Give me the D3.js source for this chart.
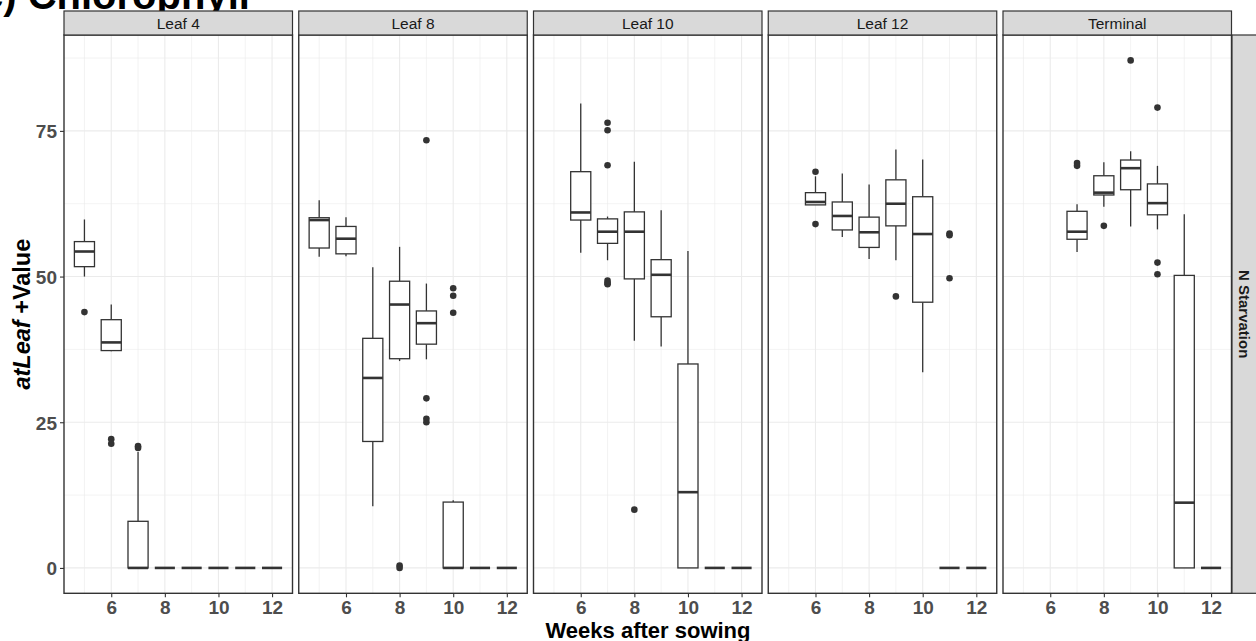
<!DOCTYPE html>
<html>
<head>
<meta charset="utf-8">
<script src="https://cdn.jsdelivr.net/npm/d3@7"></script>
<style>
  body { margin: 0; background: #ffffff; }
  svg { display: block; }
</style>
</head>
<body>
<svg id="chart" width="1256" height="641"></svg>
<script>
// ---- data -------------------------------------------------------------
const facets = ["Leaf 4", "Leaf 8", "Leaf 10", "Leaf 12", "Terminal"];
const rowLabel = "N Starvation";
const titleText = "c) Chlorophyll";
const xTitle = "Weeks after sowing";
const xTicks = [6, 8, 10, 12];
const yTicks = [0, 25, 50, 75];

// box summaries: [week, lower whisker, Q1, median, Q3, upper whisker]
const leaf4Boxes = [
  [5, 50.0, 51.7, 54.3, 56.0, 59.8],
  [6, 37.2, 37.3, 38.7, 42.6, 45.2],
  [7, 0, 0, 0, 8.0, 19.9],
  [8, 0, 0, 0, 0, 0],
  [9, 0, 0, 0, 0, 0],
  [10, 0, 0, 0, 0, 0],
  [11, 0, 0, 0, 0, 0],
  [12, 0, 0, 0, 0, 0]
];
const leaf4Outliers = [[5, 43.9], [6, 22.1], [6, 21.3], [7, 20.9], [7, 20.6]];

const leaf8Boxes = [
  [5, 53.4, 54.9, 59.7, 60.1, 63.1],
  [6, 53.5, 53.9, 56.5, 58.6, 60.2],
  [7, 10.6, 21.7, 32.6, 39.4, 51.6],
  [8, 35.5, 35.9, 45.2, 49.2, 55.1],
  [9, 35.8, 38.4, 42.0, 44.1, 48.8],
  [10, 0, 0, 0, 11.3, 11.6],
  [11, 0, 0, 0, 0, 0],
  [12, 0, 0, 0, 0, 0]
];
const leaf8Outliers = [[8, 0.4], [8, 0.0], [9, 73.4], [9, 29.1], [9, 25.6], [9, 25.0],
  [10, 48.0], [10, 46.7], [10, 43.8]];

const leaf10Boxes = [
  [6, 54.1, 59.7, 61.0, 68.0, 79.7],
  [7, 52.8, 55.7, 57.7, 59.9, 60.3],
  [8, 39.0, 49.6, 57.7, 61.1, 69.7],
  [9, 38.0, 43.1, 50.3, 52.9, 61.4],
  [10, 0, 0, 13.0, 35.0, 54.4],
  [11, 0, 0, 0, 0, 0],
  [12, 0, 0, 0, 0, 0]
];
const leaf10Outliers = [[7, 76.4], [7, 75.1], [7, 69.1], [7, 49.3], [7, 48.9], [7, 48.7],
  [8, 10.0]];

const leaf12Boxes = [
  [6, 62.3, 62.3, 62.8, 64.4, 67.2],
  [7, 56.8, 58.0, 60.4, 62.8, 67.7],
  [8, 53.0, 55.0, 57.6, 60.2, 65.8],
  [9, 52.8, 58.7, 62.5, 66.6, 71.8],
  [10, 33.6, 45.6, 57.3, 63.7, 70.1],
  [11, 0, 0, 0, 0, 0],
  [12, 0, 0, 0, 0, 0]
];
const leaf12Outliers = [[6, 68.0], [6, 59.0], [9, 46.6], [11, 57.4], [11, 57.1], [11, 49.7]];

const terminalBoxes = [
  [7, 54.2, 56.4, 57.7, 61.2, 62.4],
  [8, 62.0, 64.0, 64.4, 67.3, 69.6],
  [9, 58.6, 64.9, 68.6, 70.0, 71.5],
  [10, 58.1, 60.6, 62.6, 65.9, 69.0],
  [11, 0, 0, 11.2, 50.2, 60.7],
  [12, 0, 0, 0, 0, 0]
];
const terminalOutliers = [[7, 69.5], [7, 69.0], [8, 58.7], [9, 87.1], [10, 79.0], [10, 52.4], [10, 50.4]];

const panelData = [
  { boxes: leaf4Boxes, outliers: leaf4Outliers },
  { boxes: leaf8Boxes, outliers: leaf8Outliers },
  { boxes: leaf10Boxes, outliers: leaf10Outliers },
  { boxes: leaf12Boxes, outliers: leaf12Outliers },
  { boxes: terminalBoxes, outliers: terminalOutliers }
];

// ---- layout -----------------------------------------------------------
const panelLeft = 64, panelWidth = 228.5, panelGap = 6.25;
const panelTop = 35, panelBottom = 593.3;
const stripTop = 11;
const boxWidthWeeks = 0.75;
const ink = "#333333";
const grid = "#EBEBEB";
const tickText = "#4D4D4D";
const fontFam = "'Liberation Sans', Arial, sans-serif";

const svg = d3.select("#chart");

const y = d3.scaleLinear().domain([-4.355, 91.455]).range([panelBottom, panelTop]);
const yMinor = [12.5, 37.5, 62.5, 87.5];
const xMinor = [5, 7, 9, 11];

// title (sits partly above the canvas)
svg.append("text")
  .attr("x", -19).attr("y", 9)
  .attr("font-family", fontFam).attr("font-weight", "bold")
  .attr("font-size", 40).attr("fill", "#000")
  .text(titleText);

facets.forEach((name, i) => {
  const left = panelLeft + i * (panelWidth + panelGap);
  const x = d3.scaleLinear().domain([4.2375, 12.7625]).range([left, left + panelWidth]);
  const g = svg.append("g");
  const bw = x(boxWidthWeeks) - x(0);

  // grid lines
  g.selectAll(".ymin").data(yMinor).join("line")
    .attr("x1", left).attr("x2", left + panelWidth)
    .attr("y1", d => y(d)).attr("y2", d => y(d))
    .attr("stroke", grid).attr("stroke-width", 0.6);
  g.selectAll(".xmin").data(xMinor).join("line")
    .attr("y1", panelTop).attr("y2", panelBottom)
    .attr("x1", d => x(d)).attr("x2", d => x(d))
    .attr("stroke", grid).attr("stroke-width", 0.6);
  g.selectAll(".ymaj").data(yTicks).join("line")
    .attr("x1", left).attr("x2", left + panelWidth)
    .attr("y1", d => y(d)).attr("y2", d => y(d))
    .attr("stroke", grid).attr("stroke-width", 1.1);
  g.selectAll(".xmaj").data(xTicks).join("line")
    .attr("y1", panelTop).attr("y2", panelBottom)
    .attr("x1", d => x(d)).attr("x2", d => x(d))
    .attr("stroke", grid).attr("stroke-width", 1.1);

  const { boxes, outliers } = panelData[i];

  // whiskers
  g.selectAll(".wh").data(boxes).join("g").each(function (d) {
    const s = d3.select(this);
    s.append("line").attr("x1", x(d[0])).attr("x2", x(d[0]))
      .attr("y1", y(d[4])).attr("y2", y(d[5]))
      .attr("stroke", ink).attr("stroke-width", 1.3);
    s.append("line").attr("x1", x(d[0])).attr("x2", x(d[0]))
      .attr("y1", y(d[1])).attr("y2", y(d[2]))
      .attr("stroke", ink).attr("stroke-width", 1.3);
  });

  // boxes
  g.selectAll(".box").data(boxes).join("rect")
    .attr("x", d => x(d[0]) - bw / 2).attr("width", bw)
    .attr("y", d => y(d[4])).attr("height", d => y(d[2]) - y(d[4]))
    .attr("fill", "#ffffff").attr("stroke", ink).attr("stroke-width", 1.3);

  // medians
  g.selectAll(".med").data(boxes).join("line")
    .attr("x1", d => x(d[0]) - bw / 2).attr("x2", d => x(d[0]) + bw / 2)
    .attr("y1", d => y(d[3])).attr("y2", d => y(d[3]))
    .attr("stroke", ink).attr("stroke-width", 2.6);

  // outliers
  g.selectAll(".out").data(outliers).join("circle")
    .attr("cx", d => x(d[0])).attr("cy", d => y(d[1])).attr("r", 3.3)
    .attr("fill", ink);

  // panel border
  g.append("rect").attr("x", left).attr("y", panelTop)
    .attr("width", panelWidth).attr("height", panelBottom - panelTop)
    .attr("fill", "none").attr("stroke", ink).attr("stroke-width", 1.4);

  // strip
  g.append("rect").attr("x", left).attr("y", stripTop)
    .attr("width", panelWidth).attr("height", panelTop - stripTop)
    .attr("fill", "#D9D9D9").attr("stroke", ink).attr("stroke-width", 1.2);
  g.append("text").attr("x", left + panelWidth / 2).attr("y", (stripTop + panelTop) / 2)
    .attr("text-anchor", "middle").attr("dominant-baseline", "central")
    .attr("font-family", fontFam).attr("font-size", 15.5).attr("fill", "#1A1A1A")
    .text(name);

  // x axis
  const xAxis = d3.axisBottom(x).tickValues(xTicks).tickSize(4).tickPadding(3).tickFormat(d3.format("d"));
  const ax = g.append("g").attr("transform", `translate(0,${panelBottom})`).call(xAxis);
  ax.select(".domain").remove();
  ax.selectAll(".tick line").attr("stroke", ink).attr("stroke-width", 1.1);
  ax.selectAll(".tick text").attr("font-family", fontFam).attr("font-weight", "bold")
    .attr("font-size", 19).attr("fill", tickText);

  if (i === 0) {
    const yAxis = d3.axisLeft(y).tickValues(yTicks).tickSize(4).tickPadding(3);
    const ay = g.append("g").attr("transform", `translate(${left},0)`).call(yAxis);
    ay.select(".domain").remove();
    ay.selectAll(".tick line").attr("stroke", ink).attr("stroke-width", 1.1);
    ay.selectAll(".tick text").attr("font-family", fontFam).attr("font-weight", "bold")
      .attr("font-size", 19).attr("fill", tickText).attr("dy", "0.36em");
  }
});

// right-hand row strip
const lastRight = panelLeft + 5 * panelWidth + 4 * panelGap;
svg.append("rect").attr("x", lastRight + 0.5).attr("y", panelTop)
  .attr("width", 30).attr("height", panelBottom - panelTop)
  .attr("fill", "#D9D9D9").attr("stroke", ink).attr("stroke-width", 1.2);
svg.append("text")
  .attr("transform", `translate(${lastRight + 12.5},${(panelTop + panelBottom) / 2}) rotate(90)`)
  .attr("text-anchor", "middle").attr("dominant-baseline", "central")
  .attr("font-family", fontFam).attr("font-weight", "bold").attr("font-size", 15)
  .attr("fill", "#1A1A1A")
  .text(rowLabel);

// axis titles
svg.append("text").attr("x", 648).attr("y", 630)
  .attr("text-anchor", "middle").attr("dominant-baseline", "central")
  .attr("font-family", fontFam).attr("font-weight", "bold").attr("font-size", 22)
  .attr("fill", "#000").text(xTitle);

const yLab = svg.append("text")
  .attr("transform", `translate(22,${(panelTop + panelBottom) / 2}) rotate(-90)`)
  .attr("text-anchor", "middle").attr("dominant-baseline", "central")
  .attr("font-family", fontFam).attr("font-weight", "bold").attr("font-size", 23.5)
  .attr("fill", "#000");
yLab.append("tspan").attr("font-style", "italic").text("atLeaf");
yLab.append("tspan").text(" +Value");
</script>
</body>
</html>
